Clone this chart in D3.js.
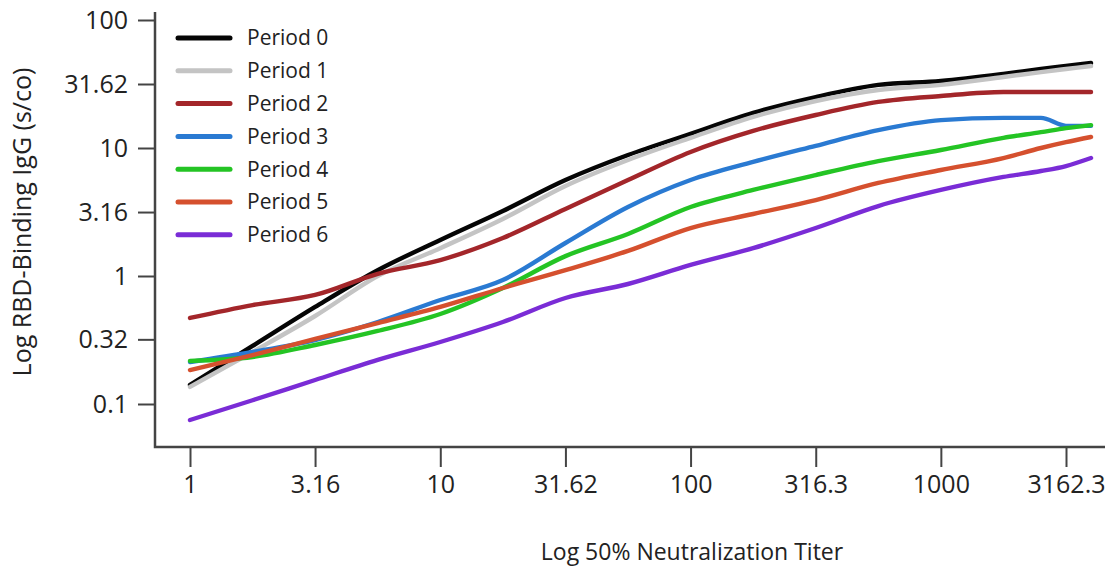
<!DOCTYPE html>
<html>
<head>
<meta charset="utf-8">
<script src="https://cdn.jsdelivr.net/npm/d3@7"></script>
<style>
  body { margin: 0; background: #fff; }
  text { font-family: "Open Sans", sans-serif; fill: #222; }
</style>
</head>
<body>
<div id="chart"></div>
<script>
// titer sample points (x) and binding values (y)
const titers = [1, 1.778, 3.162, 5.623, 10, 17.78, 31.62, 56.23, 100, 177.8, 316.2, 562.3, 1000, 1778, 2512, 3162, 3981]

const period0 = [0.141, 0.284, 0.573, 1.11, 1.91, 3.22, 5.62, 8.81, 12.9, 18.8, 25.0, 31.1, 33.4, 37.9, 41.4, 43.7, 46.1]
const period1 = [0.136, 0.255, 0.487, 1.0, 1.65, 2.79, 5.05, 8.06, 12.0, 17.5, 23.3, 28.4, 31.1, 35.9, 39.2, 41.4, 43.7]
const period2 = [0.470, 0.593, 0.711, 1.04, 1.33, 1.98, 3.34, 5.62, 9.31, 13.6, 18.1, 22.9, 25.5, 27.4, 27.4, 27.4, 27.4]
const period3 = [0.213, 0.255, 0.316, 0.437, 0.649, 0.930, 1.81, 3.46, 5.62, 7.78, 10.4, 13.8, 16.5, 17.2, 17.2, 14.9, 14.9]
const period4 = [0.217, 0.233, 0.289, 0.372, 0.505, 0.806, 1.43, 2.13, 3.46, 4.70, 6.15, 7.91, 9.65, 12.0, 13.3, 14.3, 15.1]
const period5 = [0.184, 0.241, 0.322, 0.429, 0.573, 0.806, 1.11, 1.57, 2.37, 3.05, 3.92, 5.33, 6.73, 8.35, 10.0, 11.1, 12.2]
const period6 = [0.075, 0.107, 0.154, 0.221, 0.305, 0.437, 0.673, 0.866, 1.22, 1.65, 2.37, 3.52, 4.70, 5.94, 6.61, 7.23, 8.35]

const seriesNames = ["Period 0", "Period 1", "Period 2", "Period 3", "Period 4", "Period 5", "Period 6"]
const seriesValues = [period0, period1, period2, period3, period4, period5, period6]
const seriesColors = ["#050505", "#c4c4c4", "#a3262a", "#2a7ad2", "#24c424", "#d5502e", "#7a2cd6"]

const xTicks = [1, 3.16, 10, 31.62, 100, 316.3, 1000, 3162.3]
const xTickLabels = ["1", "3.16", "10", "31.62", "100", "316.3", "1000", "3162.3"]
const yTicks = [0.1, 0.32, 1, 3.16, 10, 31.62, 100]
const yTickLabels = ["0.1", "0.32", "1", "3.16", "10", "31.62", "100"]

const width = 1107
const height = 571
const frame = { left: 155, right: 1105, top: 12, bottom: 447 }

const svg = d3.select("#chart")
  .append("svg")
    .attr("width", width)
    .attr("height", height)

const xScale = d3.scaleLog()
  .domain([1, 3162.3])
  .range([190, 1066])

const yScale = d3.scaleLog()
  .domain([0.1, 100])
  .range([404, 20])

// data lines
const line = d3.line()
  .x(d => xScale(d.x))
  .y(d => yScale(d.y))
  .curve(d3.curveMonotoneX)

const series = seriesNames.map((name, i) => ({
  name,
  color: seriesColors[i],
  points: titers.map((t, j) => ({ x: t, y: seriesValues[i][j] }))
}))

svg.append("g")
  .selectAll("path")
  .data(series)
  .enter().append("path")
    .attr("fill", "none")
    .attr("stroke", d => d.color)
    .attr("stroke-width", 4.4)
    .attr("stroke-linejoin", "round")
    .attr("stroke-linecap", "round")
    .attr("d", d => line(d.points))

// axes
const xAxis = svg.append("g")
  .attr("transform", `translate(0, ${frame.bottom})`)
  .call(d3.axisBottom(xScale)
    .tickValues(xTicks)
    .tickFormat((d, i) => xTickLabels[i])
    .tickSize(20)
    .tickPadding(8))
xAxis.select(".domain").remove()

const yAxis = svg.append("g")
  .attr("transform", `translate(${frame.left}, 0)`)
  .call(d3.axisLeft(yScale)
    .tickValues(yTicks)
    .tickFormat((d, i) => yTickLabels[i])
    .tickSize(17)
    .tickPadding(10))
yAxis.select(".domain").remove()

svg.selectAll(".tick line")
  .attr("stroke", "#444")
  .attr("stroke-width", 2)

svg.selectAll(".tick text")
  .attr("font-family", "Open Sans, sans-serif")
  .attr("font-size", 25)
  .attr("fill", "#222")

svg.append("path")
  .attr("fill", "none")
  .attr("stroke", "#444")
  .attr("stroke-width", 2.5)
  .attr("d", `M${frame.left},${frame.top}V${frame.bottom}H${frame.right}`)

// axis titles
svg.append("text")
  .attr("x", 692)
  .attr("y", 560)
  .attr("text-anchor", "middle")
  .attr("font-size", 23)
  .text("Log 50% Neutralization Titer")

svg.append("text")
  .attr("transform", "translate(31, 222) rotate(-90)")
  .attr("text-anchor", "middle")
  .attr("font-size", 25)
  .text("Log RBD-Binding IgG (s/co)")

// legend
const legend = svg.append("g")
  .selectAll("g")
  .data(series)
  .enter().append("g")
    .attr("transform", (d, i) => `translate(178, ${38 + i * 32.8})`)

legend.append("line")
  .attr("x1", 0)
  .attr("x2", 52)
  .attr("stroke", d => d.color)
  .attr("stroke-width", 5)
  .attr("stroke-linecap", "round")

legend.append("text")
  .attr("x", 69)
  .attr("dy", "0.35em")
  .attr("font-size", 21)
  .text(d => d.name)
</script>
</body>
</html>
